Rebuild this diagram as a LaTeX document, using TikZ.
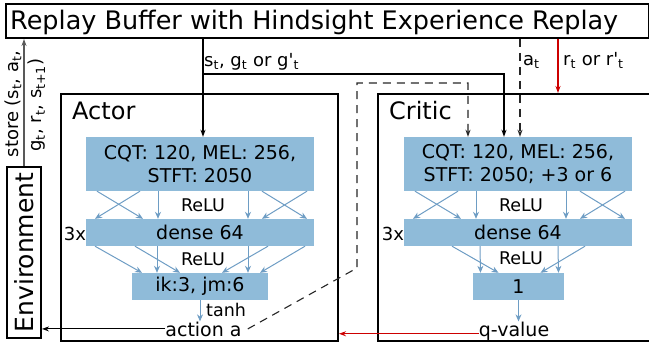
\documentclass[tikz,border=0pt]{standalone}
\usepackage{fontspec}
\setmainfont{DejaVu Sans}
\usetikzlibrary{arrows.meta,calc}
\definecolor{boxblue}{RGB}{143,187,217}
\definecolor{netblue}{RGB}{110,157,196}
\definecolor{arrred}{RGB}{205,0,0}
\newcommand{\ts}[1]{\textsubscript{#1}}
\begin{document}
\begin{tikzpicture}[x=1pt,y=-1pt,
  frame/.style={draw, line width=2pt, inner sep=0pt, anchor=north west},
  layer/.style={fill=boxblue, inner sep=0pt, align=center, font=\fontsize{19}{23}\selectfont},
  net/.style={netblue, line width=1pt, -{Stealth[length=7pt,width=6pt]}},
  blk/.style={line width=1.1pt, -{Stealth[length=7pt,width=5pt]}},
  redarr/.style={arrred, line width=1.1pt, -{Stealth[length=7pt,width=5pt]}},
  dsh/.style={line width=1.1pt, black!85, dash pattern=on 8pt off 6pt},
  lbl/.style={inner sep=0pt, font=\fontsize{18}{20}\selectfont},
  relu/.style={inner sep=0pt, font=\fontsize{17.5}{20}\selectfont},
  big/.style={inner sep=0pt, font=\fontsize{24}{28}\selectfont}]
\clip (0,0) rectangle (649,345);

% replay buffer
\node[frame, minimum width=643pt, minimum height=34pt] (buf) at (5,3) {};
\node[inner sep=0pt, anchor=base west, font=\fontsize{25.5}{28}\selectfont] (title) at (10,30)
  {Replay Buffer with Hindsight Experience Replay};

% environment
\node[draw, line width=2pt, rotate=90, minimum width=171pt, minimum height=34pt, inner sep=0pt,
  font=\fontsize{25}{28}\selectfont] (env) at (24,252.5) {Environment};
\node[lbl, rotate=90] (st1) at (13,104) {store (s\ts{t}, a\ts{t},};
\node[lbl, rotate=90] (st2) at (37,105) {g\ts{t}, r\ts{t}, s\ts{t+1})};

% frames
\node[frame, minimum width=277pt, minimum height=247pt] (actor) at (60,93) {};
\node[frame, minimum width=290pt, minimum height=247pt] (critic) at (377,93) {};
\node[big, anchor=base west] (actlbl) at (72,120) {Actor};
\node[big, anchor=base west] (crilbl) at (389,120) {Critic};

% actor layers
\node[layer, minimum width=228pt, minimum height=54pt] (ain) at (200,164) {CQT: 120, MEL: 256,\\STFT: 2050};
\node[layer, minimum width=228pt, minimum height=27pt] (adense) at (200,232.5) {dense 64};
\node[layer, minimum width=136pt, minimum height=27pt] (aout) at (200,286.5) {ik:3, jm:6};
\node[lbl, font=\fontsize{19}{22}\selectfont, anchor=base] (acta) at (203.5,336) {action a};

% critic layers
\node[layer, minimum width=228pt, minimum height=54pt] (cin) at (518,164) {CQT: 120, MEL: 256,\\STFT: 2050; +3 or 6};
\node[layer, minimum width=228pt, minimum height=27pt] (cdense) at (518,232.5) {dense 64};
\node[layer, minimum width=91pt, minimum height=27pt] (cout) at (518.5,286.5) {1};
\node[lbl, font=\fontsize{19}{22}\selectfont, anchor=base] (qval) at (514,336) {q-value};

% labels
\node[relu] (r1) at (203,205) {ReLU};
\node[relu] (r2) at (203,259) {ReLU};
\node[relu] (r3) at (521,205) {ReLU};
\node[relu] (r4) at (521,258) {ReLU};
\node[lbl] (x1) at (75,234) {3x};
\node[lbl] (x2) at (393,234) {3x};
\node[relu, anchor=base west] (tanh) at (206,316) {tanh};

% network arrows actor
\foreach \a/\b in {-103/-57,-60/-105,-42/-42,48/48,62/107,107/62}
  \draw[net] ([xshift=\a pt]ain.south) -- ([xshift=\b pt]adense.north);
\foreach \a/\b in {-105/-58,-65/-20,-43/-43,48/48,68/22,105/60}
  \draw[net] ([xshift=\a pt]adense.south) -- ([xshift=\b pt]aout.north);
\draw[net] (aout.south) -- (aout.south |- acta.north);
% network arrows critic
\foreach \a/\b in {-103/-57,-60/-105,-42/-42,48/48,62/107,107/62}
  \draw[net] ([xshift=\a pt]cin.south) -- ([xshift=\b pt]cdense.north);
\foreach \a/\b in {-66/-20,-38/-38,40/40,67/22}
  \draw[net] ([xshift=\a pt]cdense.south) -- ([xshift=\b pt]cout.north);
\draw[net] (cout.south) -- (cout.south |- qval.north);

% top connectors
\coordinate (sA) at (203,74);
\coordinate (sC) at (504,74);
\coordinate (aC) at (520,74);
\coordinate (rC) at (558,74);
\draw[blk] (sA |- buf.south) -- (sA |- ain.north);
\draw[blk] (sA) -- (sC) -- (sC |- cin.north);
\draw[dsh, -{Stealth[length=7pt,width=5pt]}] (aC |- buf.south) -- (aC |- cin.north);
\draw[redarr] (rC |- buf.south) -- (rC |- critic.north);
\node[lbl, anchor=base west] (slbl) at (204,67) {s\ts{t}, g\ts{t} or g\textquotesingle\ts{t}};
\node[lbl, anchor=base west] (albl) at (523,66) {a\ts{t}};
\node[lbl, anchor=base west] (rlbl) at (563,66) {r\ts{t} or r\textquotesingle\ts{t}};

% action path
\coordinate (d1) at (357,268);
\coordinate (d2) at (357,83);
\coordinate (d3) at (468,83);
\draw[dsh, -{Stealth[length=7pt,width=5pt]}] ([xshift=6pt]acta.east) -- (d1) -- (d2) -- (d3) -- (d3 |- cin.north);
\draw[blk] (acta.west) -- (acta.west -| env.south);
\draw[blk, black!65] (env.east) -- (env.east |- buf.south);

% q-value to actor
\coordinate (qw) at ($(qval.west)+(0,3)$);
\draw[redarr] (qw) -- (qw -| actor.east);
\end{tikzpicture}
\end{document}
